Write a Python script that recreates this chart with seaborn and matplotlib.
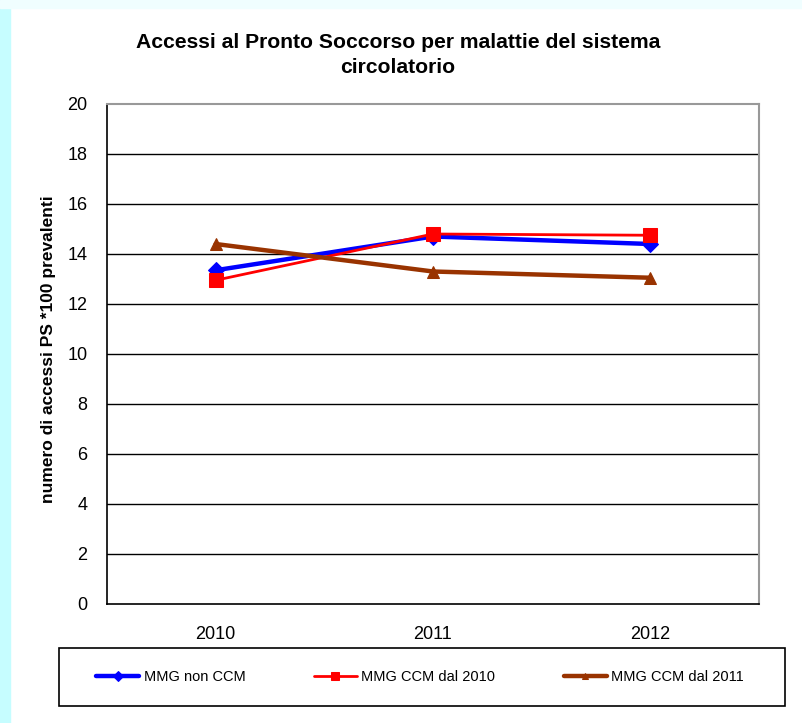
import matplotlib
matplotlib.use("Agg")
import matplotlib.pyplot as plt
import seaborn as sns
import pandas as pd
from matplotlib.patches import Rectangle

anni = ["2010", "2011", "2012"]
mmg_non_ccm = [13.35, 14.7, 14.4]
mmg_ccm_2010 = [12.95, 14.8, 14.75]
mmg_ccm_2011 = [14.4, 13.3, 13.05]

sns.set_style("white")
plt.rcParams['font.family'] = ['Liberation Sans', 'DejaVu Sans']
plt.rcParams['text.color'] = 'black'
plt.rcParams['axes.labelcolor'] = 'black'
plt.rcParams['xtick.color'] = 'black'
plt.rcParams['ytick.color'] = 'black'

fig = plt.figure(figsize=(8.03, 7.23), dpi=100, facecolor="white")
# bordi azzurri della slide
fig.patches.append(Rectangle((0, 0), 10 / 803, 1, transform=fig.transFigure,
                             color="#c6fdff", zorder=-1))
fig.patches.append(Rectangle((0, 1 - 8 / 723), 1, 8 / 723, transform=fig.transFigure,
                             color="#f0feff", zorder=-1))

ax = fig.add_axes([107 / 803, 119 / 723, 652 / 803, 500 / 723])

serie = [
    ("MMG non CCM", mmg_non_ccm, "#0000ff", "D", 3.2, 8),
    ("MMG CCM dal 2010", mmg_ccm_2010, "#ff0000", "s", 2.0, 10),
    ("MMG CCM dal 2011", mmg_ccm_2011, "#993300", "^", 3.2, 8),
]
for nome, valori, colore, marker, lw, ms in serie:
    df = pd.DataFrame({"anno": anni, "valore": valori})
    sns.lineplot(data=df, x="anno", y="valore", ax=ax, color=colore, marker=marker,
                 markersize=ms, linewidth=lw, markeredgecolor=colore, label=nome)

ax.set_xlim(-0.5, 2.5)
ax.set_ylim(0, 20)
ax.set_yticks(range(0, 21, 2))
for y in range(2, 20, 2):
    ax.axhline(y, color="black", linewidth=1, zorder=0)
ax.set_xticks([0, 1, 2])
ax.set_xticklabels(anni, fontsize=13)
ax.set_xticks([-0.5, 0.5, 1.5, 2.5], minor=True)
ax.tick_params(axis="x", which="major", length=0, pad=16)
ax.tick_params(axis="x", which="minor", length=6, direction="out", color="black", width=1)
ax.tick_params(axis="y", length=10, direction="inout", color="black", width=1,
               labelsize=13, pad=9)
ax.set_xlabel("")
ax.set_ylabel("numero di accessi PS *100 prevalenti", fontsize=12.5, fontweight="bold")
ax.yaxis.set_label_coords(-0.078, 0.51)

for lato in ["left", "bottom"]:
    ax.spines[lato].set_color("black")
    ax.spines[lato].set_linewidth(1.2)
for lato in ["top", "right"]:
    ax.spines[lato].set_color("#999999")
    ax.spines[lato].set_linewidth(1.5)

fig.text(398 / 803, 1 - 55 / 723, "Accessi al Pronto Soccorso per malattie del sistema\ncircolatorio",
         ha="center", va="center", fontsize=15.2, fontweight="bold", linespacing=1.4)

handles, labels = ax.get_legend_handles_labels()
ax.get_legend().remove()
fig.patches.append(Rectangle((59 / 803, 17 / 723), 726 / 803, 58 / 723,
                             transform=fig.transFigure, facecolor="white",
                             edgecolor="black", linewidth=1.2, zorder=1))
leg = fig.legend(handles, labels, loc="center", ncol=3,
                 bbox_to_anchor=(420 / 803, 46 / 723),
                 fontsize=10.5, handlelength=2.95, handletextpad=0.3, markerscale=0.6,
                 columnspacing=4.7, frameon=False)
leg.set_zorder(2)

fig.savefig("out.png", dpi=100, facecolor="white")
